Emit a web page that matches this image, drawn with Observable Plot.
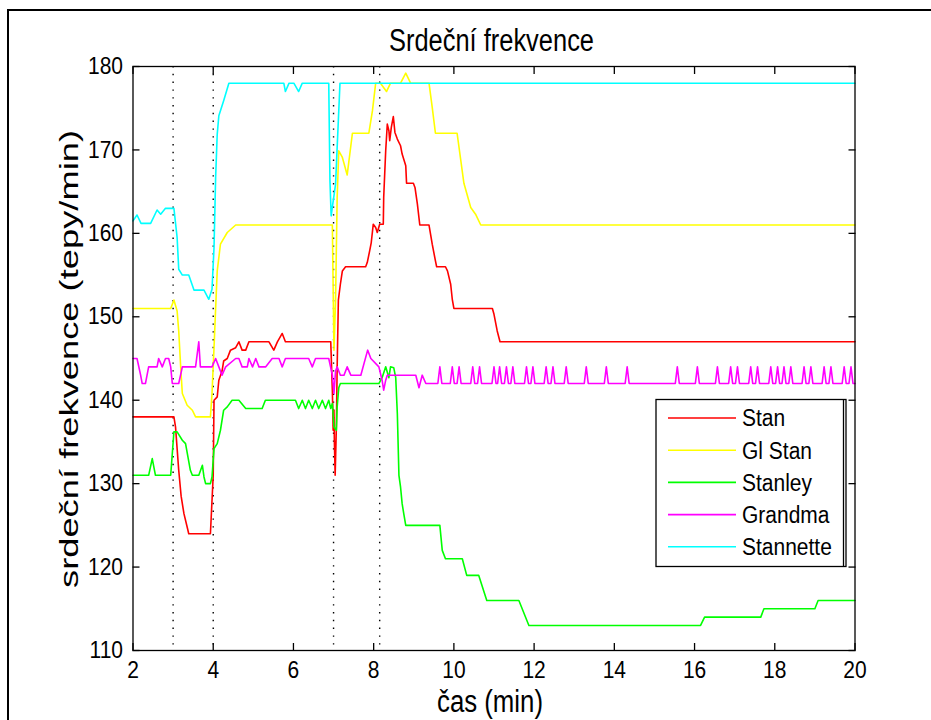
<!DOCTYPE html>
<html><head><meta charset="utf-8">
<script src="https://cdn.jsdelivr.net/npm/d3@7"></script>
<script src="https://cdn.jsdelivr.net/npm/@observablehq/plot@0.6"></script>
<style>body{margin:0;background:#fff;} #chart{position:relative;width:931px;height:720px;overflow:hidden;}</style>
</head><body><div id="chart"></div>
<script>
const xTicks = [2,4,6,8,10,12,14,16,18,20];
const yTicks = [110,120,130,140,150,160,170,180];
const seriesNames = ["Stan","Gl Stan","Stanley","Grandma","Stannette"];
const seriesColors = ["#ff0000","#ffff00","#00ff00","#ff00ff","#00ffff"];
const eventTimes = [3,4,7,8.15];
const titleText = "Srdeční frekvence";
const xLabel = "čas (min)";
const yLabel = "srdeční frekvence (tepy/min)";

const stan = [[2,138],[3.02,138],[3.06,136.8],[3.14,131.6],[3.2,128.5],[3.27,126.4],[3.35,124.8],[3.39,124],[3.93,124],[3.97,128],[4.0,131],[4.02,140],[4.1,140.4],[4.14,142.4],[4.22,143.5],[4.26,144.7],[4.35,145],[4.43,146],[4.56,146.3],[4.64,147],[4.72,146],[4.81,146],[4.89,147],[5.39,147],[5.51,146],[5.6,147],[5.72,148],[5.8,147],[6.93,147],[6.97,141.2],[6.99,136.4],[7.01,138.8],[7.02,135.2],[7.04,131],[7.07,136.8],[7.09,144],[7.12,152],[7.17,153.9],[7.22,155.5],[7.3,156],[7.8,156],[7.84,156.5],[7.9,157.9],[7.94,158.9],[7.99,161.1],[8.05,160.7],[8.09,160.1],[8.15,161.1],[8.24,161.1],[8.25,164.3],[8.3,169.9],[8.34,173.1],[8.38,172.3],[8.4,171.1],[8.44,172.7],[8.49,174],[8.53,172.1],[8.59,171.3],[8.67,170.5],[8.71,169.5],[8.8,168.1],[8.82,166],[8.99,166],[9.03,165.5],[9.09,163.5],[9.15,161],[9.38,161],[9.46,158.7],[9.54,156.7],[9.57,156],[9.79,156],[9.84,155.5],[9.92,153.9],[9.96,152.1],[10.0,151],[10.96,151],[11.0,150.3],[11.08,148.3],[11.15,147],[20,147]];

const glStan = [[2,151],[2.94,151],[3.02,152],[3.1,150.7],[3.14,148.3],[3.19,143.9],[3.23,140.8],[3.35,139.4],[3.48,138.8],[3.56,138],[3.93,138],[3.97,140.8],[4.02,146.3],[4.06,151],[4.1,155.5],[4.18,158.7],[4.35,160.1],[4.56,161],[6.97,161],[7.01,146],[7.05,152],[7.09,164.3],[7.13,169.9],[7.22,169.1],[7.34,167],[7.47,172],[7.88,172],[7.97,174.7],[8.05,178],[8.17,178],[8.32,177],[8.42,178],[8.67,178],[8.8,179.2],[8.92,178],[9.38,178],[9.46,175.1],[9.54,172],[10.08,172],[10.25,166],[10.42,163.1],[10.54,162.3],[10.67,161],[20,161]];

const stanley = [[2,131],[2.39,131],[2.48,133],[2.56,131],[2.94,131],[3.02,136.2],[3.1,136.2],[3.23,135.2],[3.31,134.8],[3.43,131.6],[3.48,131],[3.64,131],[3.73,132.2],[3.77,130.8],[3.81,130],[3.93,130],[3.97,130.8],[4.02,134.2],[4.1,134.8],[4.18,136.4],[4.26,138.8],[4.35,139.2],[4.47,140],[4.64,140],[4.81,139],[5.22,139],[5.3,140],[6.05,140],[6.13,139],[6.22,140],[6.3,139],[6.38,140],[6.47,139],[6.55,140],[6.63,139],[6.72,140],[6.8,139],[6.88,140],[6.93,139],[6.97,139.6],[7.01,136.8],[7.07,136.4],[7.09,139.2],[7.13,141.5],[7.17,142],[8.13,142],[8.21,142.7],[8.3,144],[8.38,142.7],[8.42,144],[8.5,143.9],[8.55,142.7],[8.59,138.4],[8.63,131],[8.67,129.6],[8.71,127.6],[8.75,126.4],[8.8,125],[9.65,125],[9.71,122],[9.79,121],[10.21,121],[10.32,119],[10.62,119],[10.82,116],[11.62,116],[11.87,113],[16.15,113],[16.25,114],[17.65,114],[17.73,115],[19.0,115],[19.08,116],[20,116]];

const grandma = [[2.00,145],[2.10,145],[2.19,143],[2.23,142],[2.31,142],[2.39,144],[2.60,144],[2.64,145],[2.73,144],[2.81,145],[2.89,145],[2.94,144],[2.98,142],[3.14,142],[3.23,144],[3.56,144],[3.64,147],[3.68,144],[3.97,144],[4.06,145],[4.14,144],[4.22,143],[4.31,144],[4.56,145],[4.64,145],[4.72,144],[4.85,144],[4.89,145],[4.98,144],[5.06,145],[5.14,144],[5.31,144],[5.47,145],[5.64,145],[5.72,144],[5.80,145],[6.38,145],[6.47,144],[6.55,145],[6.88,145],[6.97,143],[7.01,140.8],[7.05,143.5],[7.09,144],[7.17,143],[7.26,143],[7.34,144],[7.43,143],[7.68,143],[7.85,146],[7.93,145],[8.13,144],[8.21,142.4],[8.25,141.2],[8.30,142.4],[8.34,143],[9.05,143],[9.13,141.5],[9.21,143],[9.30,142],
[9.60,142],[9.65,144],[9.70,142],[9.91,142],[9.96,144],[10.01,142],[10.08,142],[10.13,144],[10.18,142],[10.42,142],[10.47,144],[10.52,142],[10.59,142],[10.64,144],[10.69,142],[10.95,142],[11.00,144],[11.05,142],[11.09,142],[11.14,144],[11.19,142],[11.26,142],[11.31,144],[11.36,142],[11.42,142],[11.47,144],[11.52,142],[11.76,142],[11.81,144],[11.86,142],[11.92,142],[11.97,144],[12.02,142],[12.25,142],[12.30,144],[12.35,142],[12.42,142],[12.47,144],[12.52,142],[12.75,142],[12.80,144],[12.85,142],[13.25,142],[13.30,144],[13.35,142],[13.75,142],[13.80,144],[13.85,142],[14.27,142],[14.32,144],[14.37,142],[15.52,142],[15.57,144],[15.62,142],[16.02,142],[16.07,144],[16.12,142],[16.52,142],[16.57,144],[16.62,142],[16.85,142],[16.90,144],[16.95,142],[17.02,142],[17.07,144],[17.12,142],[17.35,142],[17.40,144],[17.45,142],[17.52,142],[17.57,144],[17.62,142],[17.85,142],[17.90,144],[17.95,142],[18.02,142],[18.07,144],[18.12,142],[18.18,142],[18.23,144],[18.28,142],[18.35,142],[18.40,144],[18.45,142],[18.68,142],[18.73,144],[18.78,142],[18.85,142],[18.90,144],[18.95,142],[19.18,142],[19.23,144],[19.28,142],[19.35,142],[19.40,144],[19.45,142],[19.68,142],[19.73,144],[19.78,142],[19.85,142],[19.90,144],[19.95,142],[20.00,142]];

const stannette = [[2.0,161.5],[2.1,162.2],[2.2,161.2],[2.44,161.2],[2.6,162.8],[2.69,162.3],[2.81,163],[3.02,163],[3.1,159.5],[3.14,155.7],[3.23,155],[3.39,155],[3.52,153.2],[3.77,153.2],[3.89,152.1],[3.97,153.3],[4.02,158.3],[4.06,166.7],[4.1,171.9],[4.14,174.1],[4.26,175.9],[4.39,178],[5.76,178],[5.8,177],[5.89,178],[6.01,178],[6.13,177],[6.22,178],[6.88,178],[6.91,166.3],[6.94,162.1],[7.05,165.9],[7.16,178],[20,178]];

const allSeries = [stan, glStan, stanley, grandma, stannette];
const rows = [];
allSeries.forEach((s, i) => s.forEach(([x, y]) => rows.push({series: seriesNames[i], x, y})));

const font = "'Liberation Sans', Arial, Helvetica, sans-serif";
const axisStroke = 1.3;

const plot = Plot.plot({
  width: 931, height: 720,
  marginLeft: 132.5, marginRight: 76.5, marginTop: 66, marginBottom: 70,
  style: {fontFamily: font, fontSize: "21px", background: "white", color: "black"},
  x: {domain: [2, 20]},
  y: {domain: [110, 180]},
  color: {domain: seriesNames, range: seriesColors},
  marks: [
    Plot.ruleX(eventTimes, {stroke: "black", strokeWidth: 1.4, strokeDasharray: "1.4 6.4"}),
    Plot.line(rows, {x: "x", y: "y", z: "series", stroke: "series", strokeWidth: 1.6}),
    Plot.frame({stroke: "black", strokeWidth: axisStroke}),
    Plot.axisX(xTicks, {anchor: "bottom", tickSize: 7, dy: -7, tickFormat: () => "", label: null, strokeWidth: axisStroke}),
    Plot.axisX(xTicks, {anchor: "top", tickSize: 7, dy: 7, tickFormat: () => "", label: null, strokeWidth: axisStroke}),
    Plot.axisY(yTicks, {anchor: "left", tickSize: 7, dx: 7, tickFormat: () => "", label: null, strokeWidth: axisStroke}),
    Plot.axisY(yTicks, {anchor: "right", tickSize: 7, dx: -7, tickFormat: () => "", label: null, strokeWidth: axisStroke}),
    Plot.axisX(xTicks, {anchor: "bottom", tickSize: 0, tickPadding: 11, tickFormat: d => String(d), label: null, fontSize: 21}),
    Plot.axisY(yTicks, {anchor: "left", tickSize: 0, tickPadding: 10, tickFormat: d => String(d), label: null, fontSize: 21})
  ]
});

document.getElementById("chart").appendChild(plot);
const svg = d3.select(plot);

// slightly taller tick digits, as in the reference
svg.selectAll('g[aria-label="x-axis tick label"] text, g[aria-label="y-axis tick label"] text')
  .attr("transform", function() { return (this.getAttribute("transform") || "") + " scale(1,1.13)"; });

const [fx0, fx1] = plot.scale("x").range;
const [fy0, fy1] = plot.scale("y").range; // bottom, top
const cx = (fx0 + fx1) / 2, cy = (fy0 + fy1) / 2;

svg.insert("rect", ":first-child").attr("x", 0).attr("y", 0).attr("width", 931).attr("height", 720).attr("fill", "white");
// outer figure border
svg.append("rect").attr("x", 8).attr("y", 10).attr("width", 1000).attr("height", 1000)
  .attr("fill", "none").attr("stroke", "black").attr("stroke-width", 2);

const tg = svg.append("g").attr("font-family", font).attr("fill", "black").attr("text-anchor", "middle");
tg.append("text").attr("transform", `translate(${cx - 2},${fy1 - 26}) scale(1,1.25)`)
  .attr("font-size", 25.5).attr("dy", "0.36em")
  .attr("textLength", 205).attr("lengthAdjust", "spacingAndGlyphs").text(titleText);
tg.append("text").attr("transform", `translate(${cx - 3.5},${fy0 + 51}) scale(1,1.2)`)
  .attr("font-size", 26).attr("dy", "0.36em")
  .attr("textLength", 106).attr("lengthAdjust", "spacingAndGlyphs").text(xLabel);
tg.append("text").attr("transform", `translate(${fx0 - 64},${cy + 1}) rotate(-90)`)
  .attr("font-size", 25).attr("dy", "0.36em")
  .attr("textLength", 458).attr("lengthAdjust", "spacingAndGlyphs").text(yLabel);

// legend
const lg = svg.append("g").attr("font-family", font).attr("font-size", 21).attr("text-anchor", "start");
lg.append("rect").attr("x", 656).attr("y", 399.5).attr("width", 190).attr("height", 167)
  .attr("fill", "white").attr("stroke", "black").attr("stroke-width", 1.3);
lg.append("line").attr("x1", 843.5).attr("x2", 843.5).attr("y1", 399.5).attr("y2", 566.5)
  .attr("stroke", "black").attr("stroke-width", 1.3);
seriesNames.forEach((name, i) => {
  const ly = 418 + i * 32.2;
  lg.append("line").attr("x1", 668).attr("x2", 736).attr("y1", ly).attr("y2", ly)
    .attr("stroke", seriesColors[i]).attr("stroke-width", 1.6);
  lg.append("text").attr("transform", `translate(742,${ly}) scale(1,1.1)`).attr("dy", "0.36em")
    .attr("fill", "black").text(name);
});
</script></body></html>
